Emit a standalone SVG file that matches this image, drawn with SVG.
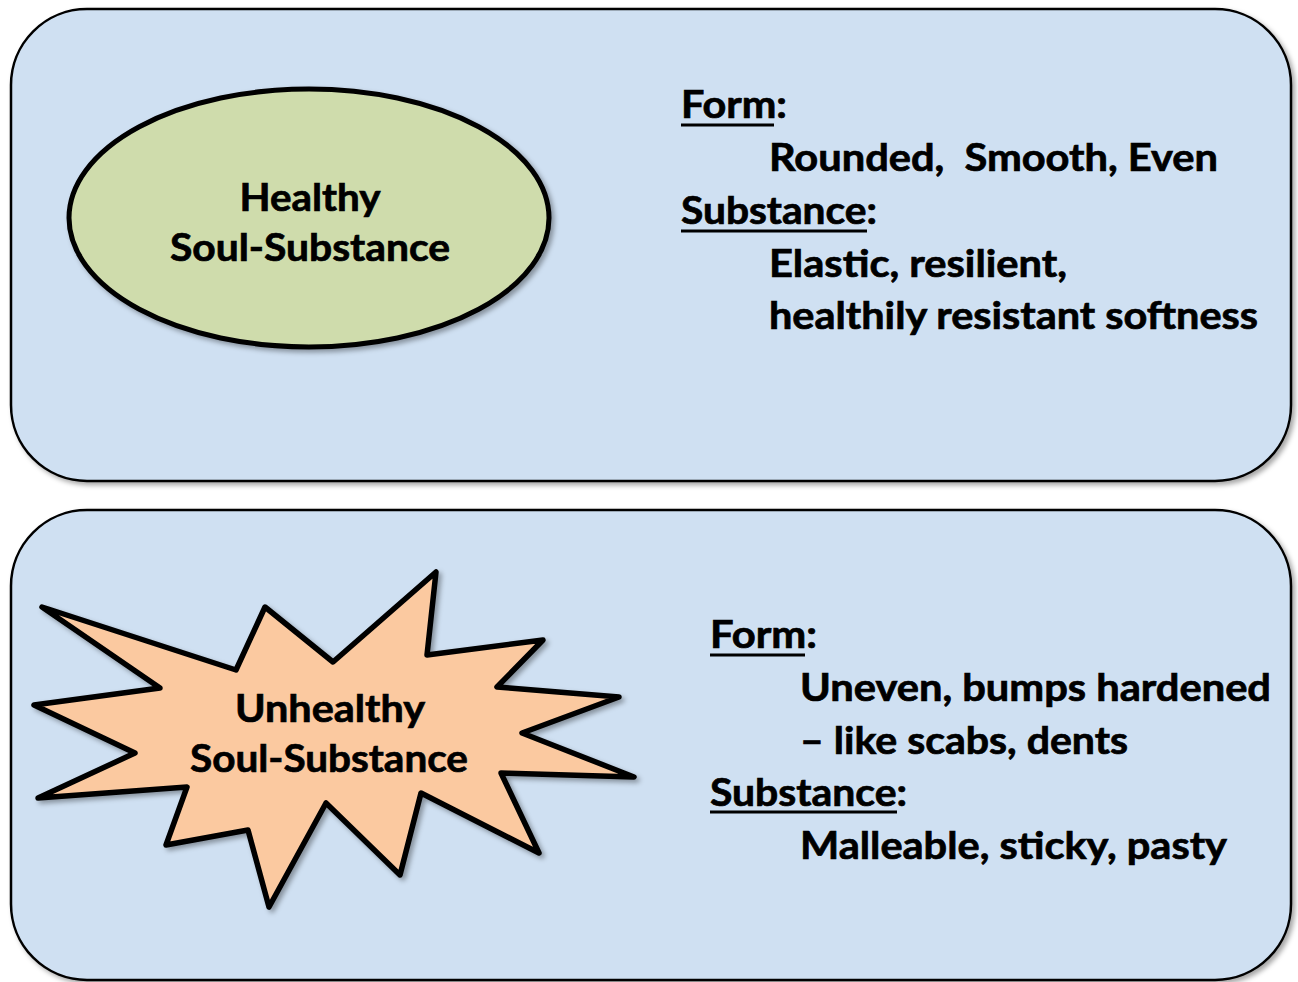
<svg xmlns="http://www.w3.org/2000/svg" width="1298" height="982" viewBox="0 0 1298 982">
<defs>
<filter id="sh" x="-5%" y="-5%" width="115%" height="115%">
<feDropShadow dx="3" dy="3" stdDeviation="2.5" flood-color="#000" flood-opacity="0.35"/>
</filter>
<style>
.box{fill:#cfe0f2;stroke:#000;stroke-width:2.5;filter:url(#sh)}
.t{font-family:Lato,"Open Sans","Liberation Sans",sans-serif;font-weight:bold;font-size:38px;fill:#000;stroke:#000;stroke-width:0.7;white-space:pre}
.ul{stroke:#000;stroke-width:3}
</style>
</defs>
<rect id="box-top" class="box" x="11" y="9" width="1280" height="472" rx="76" ry="76"/>
<rect id="box-bottom" class="box" x="11" y="510" width="1280" height="470" rx="76" ry="76"/>

<g id="healthy">
<ellipse cx="309" cy="218" rx="240" ry="129" fill="#cfdcac" stroke="#000" stroke-width="5" filter="url(#sh)"/>
<text class="t" x="310" y="211" text-anchor="middle" textLength="141" lengthAdjust="spacingAndGlyphs">Healthy</text>
<text class="t" x="310" y="261" text-anchor="middle" textLength="280" lengthAdjust="spacingAndGlyphs">Soul-Substance</text>
</g>

<g id="healthy-desc">
<text class="t" x="681" y="118" textLength="106" lengthAdjust="spacingAndGlyphs">Form:</text>
<line class="ul" x1="681" y1="125" x2="774" y2="125"/>
<text class="t" x="769" y="171" textLength="449" lengthAdjust="spacingAndGlyphs" xml:space="preserve">Rounded,  Smooth, Even</text>
<text class="t" x="681" y="224" textLength="196" lengthAdjust="spacingAndGlyphs">Substance:</text>
<line class="ul" x1="681" y1="231" x2="867" y2="231"/>
<text class="t" x="769" y="277" textLength="298" lengthAdjust="spacingAndGlyphs">Elastic, resilient,</text>
<text class="t" x="769" y="329" textLength="489" lengthAdjust="spacingAndGlyphs">healthily resistant softness</text>
</g>

<g id="unhealthy">
<polygon points="42,607 236,670 265,607 333,662 436,572 427,655 543,640 497,687 619,697 522,733 634,777 501,773 539,853 421,793 400,875 326,803 269,907 248,830 166,845 187,787 38,798 135,753 34,705 160,688" fill="#fbc9a0" stroke="#000" stroke-width="5.5" stroke-linejoin="round" filter="url(#sh)"/>
<text class="t" x="330" y="722" text-anchor="middle" textLength="190" lengthAdjust="spacingAndGlyphs">Unhealthy</text>
<text class="t" x="329" y="772" text-anchor="middle" textLength="278" lengthAdjust="spacingAndGlyphs">Soul-Substance</text>
</g>

<g id="unhealthy-desc">
<text class="t" x="710" y="648" textLength="107" lengthAdjust="spacingAndGlyphs">Form:</text>
<line class="ul" x1="710" y1="655" x2="805" y2="655"/>
<text class="t" x="800" y="701" textLength="471" lengthAdjust="spacingAndGlyphs">Uneven, bumps hardened</text>
<text class="t" x="800" y="754" textLength="328" lengthAdjust="spacingAndGlyphs">– like scabs, dents</text>
<text class="t" x="710" y="806" textLength="197" lengthAdjust="spacingAndGlyphs">Substance:</text>
<line class="ul" x1="710" y1="812" x2="897" y2="812"/>
<text class="t" x="800" y="859" textLength="427" lengthAdjust="spacingAndGlyphs">Malleable, sticky, pasty</text>
</g>
</svg>
